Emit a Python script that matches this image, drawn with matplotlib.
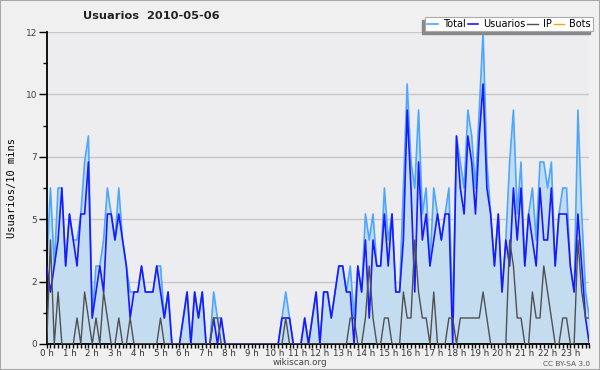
import matplotlib
matplotlib.use("Agg")
import matplotlib.pyplot as plt
from matplotlib.patches import Rectangle
import numpy as np

# valores cada 10 minutos (6 por hora)
total = [3, 6, 3, 6, 6, 3,  5, 4, 4, 5, 7, 8,  1, 3, 3, 4, 6, 5,  4, 6, 4, 3, 2, 2,
         2, 3, 2, 2, 2, 3,  3, 1, 2, 0, 0, 0,  1, 2, 0, 2, 1, 2,  0, 0, 2, 1, 1, 0,
         0, 0, 0, 0, 0, 0,  0, 0, 0, 0, 0, 0,  0, 0, 1, 2, 1, 0,  0, 0, 1, 0, 1, 2,
         0, 2, 2, 1, 2, 3,  3, 2, 3, 1, 3, 2,  5, 4, 5, 3, 3, 6,  4, 5, 2, 2, 6, 10,
         7, 6, 9, 5, 6, 3,  6, 5, 4, 5, 6, 1,  8, 7, 6, 9, 8, 6,  9, 12, 7, 5, 3, 5,
         2, 4, 7, 9, 5, 7,  3, 5, 6, 4, 7, 7,  6, 7, 3, 5, 6, 6,  3, 2, 9, 5, 2, 1]
usuarios = [3, 2, 3, 4, 6, 3,  5, 4, 3, 5, 5, 7,  1, 2, 3, 2, 5, 5,  4, 5, 4, 3, 1, 2,
            2, 3, 2, 2, 2, 3,  2, 1, 2, 0, 0, 0,  1, 2, 0, 2, 1, 2,  0, 0, 1, 0, 1, 0,
            0, 0, 0, 0, 0, 0,  0, 0, 0, 0, 0, 0,  0, 0, 1, 1, 1, 0,  0, 0, 1, 0, 1, 2,
            0, 2, 2, 1, 2, 3,  3, 2, 2, 0, 3, 2,  4, 1, 4, 3, 3, 5,  3, 5, 2, 2, 4, 9,
            6, 2, 7, 4, 5, 3,  4, 5, 4, 5, 5, 0,  8, 6, 5, 8, 7, 5,  8, 10, 6, 5, 3, 5,
            2, 4, 3, 6, 4, 6,  3, 5, 4, 3, 6, 4,  4, 6, 3, 5, 5, 5,  3, 2, 5, 3, 1, 0]
ip = [0, 4, 0, 2, 0, 0,  0, 0, 1, 0, 2, 1,  0, 1, 0, 2, 1, 0,  0, 1, 0, 0, 1, 0,
      0, 0, 0, 0, 0, 0,  1, 0, 0, 0, 0, 0,  0, 0, 0, 0, 0, 0,  0, 0, 1, 1, 0, 0,
      0, 0, 0, 0, 0, 0,  0, 0, 0, 0, 0, 0,  0, 0, 0, 1, 0, 0,  0, 0, 0, 0, 0, 0,
      0, 0, 0, 0, 0, 0,  0, 0, 1, 1, 0, 0,  1, 3, 1, 0, 0, 1,  1, 0, 0, 0, 2, 1,
      1, 4, 2, 1, 1, 0,  2, 0, 0, 0, 1, 1,  0, 1, 1, 1, 1, 1,  1, 2, 1, 0, 0, 0,
      0, 0, 4, 3, 1, 1,  0, 0, 2, 1, 1, 3,  2, 1, 0, 0, 1, 1,  0, 0, 4, 2, 1, 1]
bots = [0] * 144

hour_labels = ["%d h" % h for h in range(24)]
y_ticks = [0, 2.4, 4.8, 7.2, 9.6, 12]

x = np.arange(len(total))

fig = plt.figure(figsize=(6, 3.7), dpi=100, facecolor="#f0f0f0")
fig.patches.append(Rectangle((0, 0), 1, 1, transform=fig.transFigure, fill=False,
                             edgecolor="#a8a8a8", lw=1.5, zorder=10))
ax = fig.add_axes([0.0778, 0.0703, 0.9044, 0.8432], facecolor="#ededf0")

ax.fill_between(x, total, 0, color="#c4dcf0", lw=0, zorder=1)
l1, = ax.plot(x, total, color="#4da6ff", lw=1.2, zorder=2)
l2, = ax.plot(x, usuarios, color="#1a1aff", lw=1.2, zorder=3)
l3, = ax.plot(x, ip, color="#505050", lw=1.0, zorder=4)
l4, = ax.plot(x, bots, color="#ffa500", lw=1.0, zorder=1.5)

ax.set_xlim(0, 143)
ax.set_ylim(0, 12)
ax.set_yticks(y_ticks)
ax.set_yticklabels(["%d" % round(v) for v in y_ticks])
ax.set_yticks(np.arange(0, 12.01, 1.2), minor=True)
ax.set_xticks(np.arange(0, 144, 6))
ax.set_xticklabels(hour_labels)
ax.set_xticks(x, minor=True)
ax.grid(axis="y", color="#c8c8c8", lw=1)
ax.set_axisbelow(True)

for s in ["top", "right"]:
    ax.spines[s].set_visible(False)
ax.spines["left"].set_linewidth(1.3)
ax.spines["bottom"].set_linewidth(1.3)
ax.tick_params(axis="y", which="major", length=6, width=1, pad=1, labelsize=6.5, labelcolor="#444444")
ax.tick_params(axis="y", which="minor", length=3, width=1)
ax.tick_params(axis="x", which="both", length=3, width=1, pad=0.5, labelsize=6.3, labelcolor="#333333")

ax.set_ylabel("Usuarios/10 mins", family="DejaVu Sans Mono", fontsize=7.5)
ax.yaxis.set_label_coords(-0.055, 0.5)

fig.text(0.252, 0.957, "Usuarios  2010-05-06", ha="center", va="center",
         fontsize=8.2, fontweight="bold", color="#222222")
fig.text(0.5, 0.019, "wikiscan.org", ha="center", va="center", fontsize=6.3, color="#444444")
fig.text(0.983, 0.017, "CC BY-SA 3.0", ha="right", va="center", fontsize=5.3, color="#555555")

leg = fig.legend([l1, l2, l3, l4], ["Total", "Usuarios", "IP", "Bots"], ncol=4,
                 loc="upper right", bbox_to_anchor=(593 / 600, 1 - 17 / 370),
                 fontsize=7, frameon=True, fancybox=False, handlelength=1.1,
                 handletextpad=0.5, columnspacing=0.2, borderpad=0.22, borderaxespad=0)
leg.get_frame().set_edgecolor("#aaaaaa")
leg.get_frame().set_linewidth(0.8)
leg.get_frame().set_facecolor("white")
leg.get_frame().set_alpha(1)

# sombra del cuadro de leyenda (abajo a la izquierda)
fig.canvas.draw()
bb = leg.get_window_extent().transformed(fig.transFigure.inverted())
fig.patches.append(Rectangle((bb.x0 - 3 / 600, bb.y0 - 3 / 370), bb.width, bb.height,
                             transform=fig.transFigure, color="#888888", zorder=4))

fig.savefig("out.png", dpi=100, facecolor=fig.get_facecolor())
